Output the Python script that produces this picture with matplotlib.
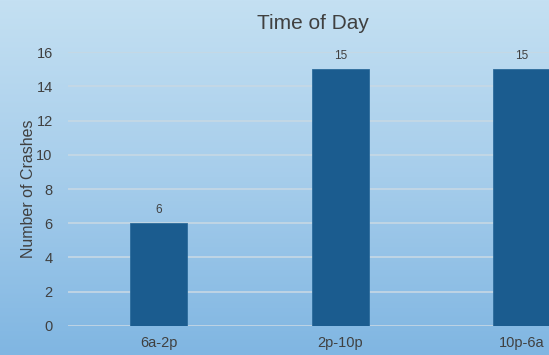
import numpy as np
import matplotlib
matplotlib.use("Agg")
import matplotlib.pyplot as plt
from matplotlib.colors import LinearSegmentedColormap

categories = ["6a-2p", "2p-10p", "10p-6a"]
crashes = [6, 15, 15]
yticks = [0, 2, 4, 6, 8, 10, 12, 14, 16]

plt.rcParams['font.family'] = ['Liberation Sans', 'DejaVu Sans']
text_color = "#404040"
bar_color = "#1b5c8f"

fig = plt.figure(figsize=(5.49, 3.55), dpi=100)

# vertical gradient background
bg = fig.add_axes([0, 0, 1, 1], zorder=-10)
cmap = LinearSegmentedColormap.from_list("bg", ["#c4e0f2", "#a6cdeb", "#80b6e2"])
grad = np.linspace(0, 1, 256).reshape(-1, 1)
bg.imshow(grad, aspect="auto", cmap=cmap, extent=[0, 1, 0, 1], origin="upper")
bg.set_axis_off()

# plot area runs past the right edge of the canvas
ax = fig.add_axes([0.1239, 0.0817, 0.9918, 0.7718])
ax.patch.set_alpha(0)
x = np.arange(len(categories))
bars = ax.bar(x, crashes, width=0.314, color=bar_color, edgecolor="#2d6c9c",
              linewidth=0.6, zorder=3)
for xi, v in zip(x, crashes):
    ax.text(xi, v + 0.4, f"{v}", ha="center", va="bottom", fontsize=8.5,
            color=text_color)

ax.set_xlim(-0.5, len(categories) - 0.5)
ax.set_ylim(0, 16)
ax.set_yticks(yticks)
ax.set_xticks(x)
ax.set_xticklabels(categories)
ax.yaxis.grid(True, color="#c7d8e4", linewidth=1.2, zorder=0)
ax.set_axisbelow(True)
for s in ax.spines.values():
    s.set_visible(False)
ax.tick_params(axis="both", length=0, labelsize=10.5, colors=text_color)
ax.tick_params(axis="y", pad=11)
ax.tick_params(axis="x", pad=7)
ax.set_ylabel("Number of Crashes", fontsize=11.5, color=text_color, labelpad=0)

fig.text(313 / 549, 0.935, "Time of Day", ha="center", va="center", fontsize=15,
         color=text_color)

fig.savefig("out.png", dpi=100)
